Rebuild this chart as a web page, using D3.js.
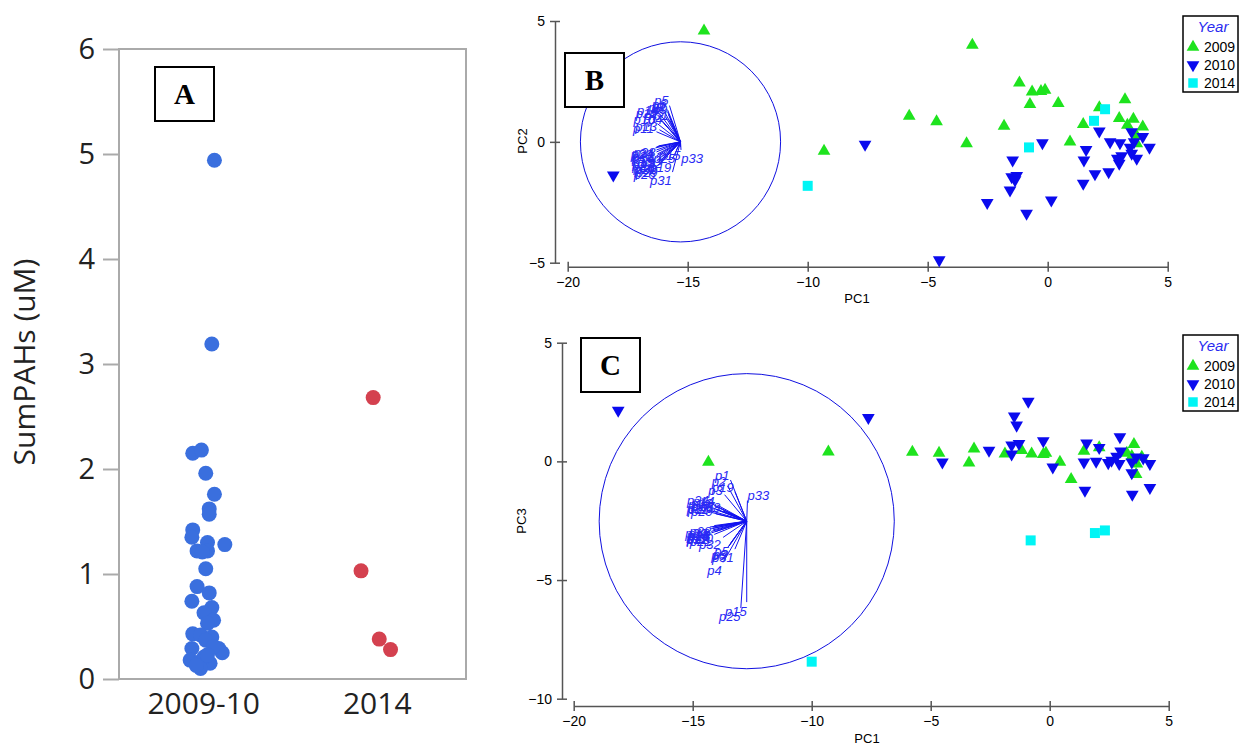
<!DOCTYPE html>
<html>
<head>
<meta charset="utf-8">
<script src="https://cdn.jsdelivr.net/npm/d3@7"></script>
<style>
    body { margin: 0; background: #fff; }
    svg { display: block; }
</style>
</head>
<body>
<svg id="chart" width="1239" height="746"></svg>
<script>
/* ---------- Panel A: SumPAHs by sampling period ---------- */
var groupNames = ['2009-10', '2014'];
var tickValuesA = [0, 1, 2, 3, 4, 5, 6];

// SumPAHs (uM) for 2009-10 and the horizontal jitter of each dot (in group units)
var sumPAHs0910 = [4.94, 3.19, 2.15, 2.18, 1.96, 1.76, 1.62, 1.57, 1.42, 1.35,
                   1.30, 1.28, 1.22, 1.22, 1.21, 1.05, 0.88, 0.82, 0.74, 0.68,
                   0.63, 0.56, 0.53, 0.43, 0.42, 0.40, 0.37, 0.29, 0.29, 0.25,
                   0.31, 0.18, 0.16, 0.15, 0.21, 0.10, 0.13, 0.23];
var jitter0910 = [0.05, 0.035, -0.075, -0.025, 0.0, 0.05, 0.02, 0.02, -0.075, -0.08,
                  0.01, 0.11, -0.05, 0.01, -0.02, 0.0, -0.05, 0.02, -0.08, 0.035,
                  -0.01, 0.045, 0.01, -0.075, -0.03, 0.035, 0.0, -0.08, 0.075, 0.095,
                  0.045, -0.09, -0.04, 0.025, -0.01, -0.03, -0.055, 0.01];

// SumPAHs (uM) for 2014
var sumPAHs2014 = [2.68, 1.03, 0.38, 0.28];
var jitter2014 = [-0.035, -0.105, 0.0, 0.065];

/* ---------- Panels B and C: PCA scores ---------- */
var yearNames = ['2009', '2010', '2014'];
var yearColors = ['#1ee31e', '#0a0aee', '#00f5f5'];

// Panel B scores (PC1, PC2)
var pc1B2009 = [-14.32, -9.32, -3.14, -1.18, -0.65, -0.28, -0.11, -0.74, 0.44, -5.77,
                -4.63, -1.82, -3.38, 0.93, 1.48, 2.15, 3.22, 2.98, 3.57, 3.32, 3.96, 3.71, 3.71];
var pc2B2009 = [4.59, -0.38, 4.0, 2.44, 2.07, 2.09, 2.14, 1.55, 1.59, 1.07,
                0.84, 0.65, -0.07, 0.0, 0.72, 1.42, 1.75, 0.97, 0.94, 0.69, 0.62, 0.24, -0.07];
var pc1B2010 = [-18.1, -7.61, -4.52, -1.46, -1.5, -1.29, -1.36, -1.57, -2.52, -0.88,
                0.15, -0.22, 1.6, 1.51, 1.48, 1.97, 2.54, 2.15, 2.6, 3.01,
                2.9, 2.98, 3.08, 3.5, 3.6, 3.43, 3.5, 3.71, 3.96, 4.24];
var pc2B2010 = [-1.38, -0.11, -4.89, -0.76, -1.45, -1.40, -1.58, -2.0, -2.52, -2.96,
                -2.41, -0.04, -0.32, -0.76, -1.72, -1.33, -1.24, 0.44, 0.0, -0.04,
                -0.69, -0.89, -0.58, 0.41, 0.0, -0.23, -0.48, -0.69, 0.21, -0.23];
var pc1B2014 = [-10.0, 2.39, 1.93, -0.78];
var pc2B2014 = [-1.82, 1.35, 0.87, -0.23];

// Panel C scores (PC1, PC3)
var pc1C2009 = [-14.34, -9.3, -5.77, -4.65, -3.18, -3.39, -1.88, -1.18, -0.76, -0.27,
                -0.16, 0.43, 0.9, 1.44, 2.08, 3.24, 3.54, 3.45, 3.66, 3.63, 3.87];
var pc3C2009 = [-0.03, 0.4, 0.39, 0.35, 0.53, -0.06, 0.32, 0.46, 0.32, 0.3,
                0.35, -0.03, -0.76, 0.43, 0.58, 0.35, 0.72, 0.21, -0.1, -0.55, 0.18];
var pc1C2010 = [-18.13, -7.62, -4.51, -2.55, -0.9, -1.49, -1.39, -1.6, -1.29, -1.6,
                -0.27, 0.13, 1.55, 1.44, 1.95, 2.08, 1.48, 2.46, 2.6, 2.92,
                2.95, 2.98, 2.81, 3.45, 3.45, 3.47, 3.63, 3.93, 4.21, 4.21];
var pc3C2010 = [2.15, 1.84, -0.03, 0.46, 2.53, 1.9, 1.52, 0.68, 0.75, 0.3,
                0.86, -0.24, 0.77, -0.03, 0.0, 0.58, -1.22, -0.06, 0.04, -0.1,
                1.03, 0.43, 0.21, -0.03, -0.49, -1.39, 0.18, 0.14, -0.1, -1.11];
var pc1C2014 = [-10.0, -0.8, 1.9, 2.32];
var pc3C2014 = [-8.44, -3.33, -3.02, -2.91];

// Variable loadings (PAH compounds p1..p33) on PC1, PC2, PC3
var pahNames = ['p1', 'p2', 'p3', 'p4', 'p5', 'p6', 'p7', 'p8', 'p9', 'p10', 'p11',
                'p12', 'p13', 'p14', 'p15', 'p16', 'p17', 'p18', 'p19', 'p20', 'p21', 'p22',
                'p23', 'p24', 'p25', 'p26', 'p27', 'p28', 'p29', 'p30', 'p31', 'p32', 'p33'];
var loadPC1 = [-0.11, -0.13, -0.15, -0.16, -0.11, -0.13, -0.20, -0.16, -0.12, -0.23, -0.24,
               -0.21, -0.21, -0.20, 0.0, -0.24, -0.24, -0.23, -0.08, -0.25, -0.22, -0.24,
               -0.23, -0.24, -0.04, -0.23, -0.24, -0.22, -0.21, -0.21, -0.08, -0.16, 0.005];
var loadPC2 = [0.22, 0.30, 0.25, 0.18, 0.36, 0.32, 0.22, 0.30, 0.27, 0.18, 0.10,
               0.24, 0.12, 0.27, -0.05, -0.10, -0.14, -0.18, -0.17, -0.06, -0.20, -0.08,
               -0.12, -0.05, -0.08, -0.24, -0.16, -0.04, -0.22, -0.20, -0.30, -0.14, -0.08];
var loadPC3 = [0.28, 0.24, 0.18, -0.28, -0.15, -0.18, 0.08, 0.07, -0.17, 0.09, 0.06,
               0.10, 0.08, 0.11, -0.55, -0.05, -0.07, -0.04, 0.20, -0.04, -0.09, -0.08,
               -0.06, 0.12, -0.59, -0.05, 0.07, -0.03, 0.05, -0.07, -0.19, -0.11, 0.14];

var pcTicks = [-20, -15, -10, -5, 0, 5];

var svg = d3.select('#chart');

/* Draws the dot plot of panel A */
function drawPanelA() {
    var left = 119, right = 466, top = 49, bottom = 679;

    // Scales: category index (with jitter) and SumPAHs value
    var xScale = d3.scaleLinear().domain([-0.5, 1.5]).range([left, right]);
    var yScale = d3.scaleLinear().domain([0, 6]).range([bottom, top]);

    var g = svg.append('g').attr('class', 'panelA');

    // Plot frame
    g.append('rect')
        .attr('x', left).attr('y', top)
        .attr('width', right - left).attr('height', bottom - top)
        .attr('fill', 'none')
        .attr('stroke', '#aaaaaa')
        .attr('stroke-width', 2);

    // Y axis ticks and labels
    var yAxis = d3.axisLeft(yScale)
        .tickValues(tickValuesA)
        .tickSize(16)
        .tickPadding(8)
        .tickFormat(d3.format('d'));
    var yG = g.append('g')
        .attr('transform', 'translate(' + left + ',0)')
        .call(yAxis);
    yG.select('.domain').remove();
    yG.selectAll('line').attr('stroke', '#aaaaaa').attr('stroke-width', 2);
    yG.selectAll('text')
        .attr('font-family', '"Open Sans", sans-serif')
        .attr('font-size', '29px')
        .attr('fill', '#222');

    // Y axis title
    g.append('text')
        .attr('transform', 'translate(35,' + 362 + ') rotate(-90)')
        .attr('text-anchor', 'middle')
        .attr('font-family', '"Open Sans", sans-serif')
        .attr('font-size', '30px')
        .attr('fill', '#222')
        .text('SumPAHs (uM)');

    // Category labels
    g.selectAll('text.groupLabel')
        .data(groupNames)
        .enter()
        .append('text')
        .classed('groupLabel', true)
        .attr('x', function(d, i) { return xScale(i) - 2; })
        .attr('y', 714)
        .attr('text-anchor', 'middle')
        .attr('font-family', '"Open Sans", sans-serif')
        .attr('font-size', '30px')
        .attr('fill', '#222')
        .text(function(d) { return d; });

    // Dots for each period
    var groups = [
        { values: sumPAHs0910, jitter: jitter0910, color: '#3a6fde' },
        { values: sumPAHs2014, jitter: jitter2014, color: '#d4414f' }
    ];
    groups.forEach(function(grp, gi) {
        g.selectAll('circle.g' + gi)
            .data(grp.values)
            .enter()
            .append('circle')
            .attr('class', 'g' + gi)
            .attr('cx', function(d, i) { return xScale(gi + grp.jitter[i]); })
            .attr('cy', function(d) { return yScale(d); })
            .attr('r', 7.5)
            .attr('fill', grp.color);
    });

    // Panel letter
    drawLetter(g, 155, 67, 'A');
}

/* Draws a boxed panel letter */
function drawLetter(g, x, y, letter) {
    g.append('rect')
        .attr('x', x).attr('y', y)
        .attr('width', 59).attr('height', 54)
        .attr('fill', '#fff')
        .attr('stroke', '#000')
        .attr('stroke-width', 2);
    g.append('text')
        .attr('x', x + 29.5).attr('y', y + 37)
        .attr('text-anchor', 'middle')
        .attr('font-family', '"Liberation Serif", "Times New Roman", serif')
        .attr('font-weight', 'bold')
        .attr('font-size', '29px')
        .text(letter);
}

/* Draws one PCA biplot panel (B or C) */
function drawBiplot(p) {
    var g = svg.append('g').attr('class', 'panel' + p.letter);

    var xScale = d3.scaleLinear().domain([-20, 5]).range(p.xRange);
    var yScale = d3.scaleLinear().domain(p.yDomain).range(p.yRange);

    // X axis with ticks crossing the line
    var xAxis = d3.axisBottom(xScale)
        .tickValues(pcTicks)
        .tickSizeInner(5)
        .tickSizeOuter(0)
        .tickPadding(5);
    var xG = g.append('g')
        .attr('transform', 'translate(0,' + p.xAxisY + ')')
        .call(xAxis);
    xG.selectAll('.tick line').attr('y1', -5);

    // Y axis with ticks crossing the line
    var yAxis = d3.axisLeft(yScale)
        .tickValues(p.yTicks)
        .tickSizeInner(5)
        .tickSizeOuter(0)
        .tickPadding(5);
    var yG = g.append('g')
        .attr('transform', 'translate(' + p.yAxisX + ',0)')
        .call(yAxis);
    yG.selectAll('.tick line').attr('x1', 5);

    [xG, yG].forEach(function(ax) {
        ax.selectAll('.domain, line').attr('stroke', '#555').attr('stroke-width', 1.5);
        ax.selectAll('text')
            .attr('font-family', '"Liberation Sans", Arial, sans-serif')
            .attr('font-size', '14px')
            .attr('fill', '#000');
    });

    // Axis titles
    g.append('text')
        .attr('x', p.xTitle[0]).attr('y', p.xTitle[1])
        .attr('text-anchor', 'middle')
        .attr('font-family', '"Liberation Sans", Arial, sans-serif')
        .attr('font-size', '13px')
        .text('PC1');
    g.append('text')
        .attr('transform', 'translate(' + p.yTitle[0] + ',' + p.yTitle[1] + ') rotate(-90)')
        .attr('text-anchor', 'middle')
        .attr('font-family', '"Liberation Sans", Arial, sans-serif')
        .attr('font-size', '13px')
        .text(p.yLabel);

    // Correlation circle
    var cx = xScale(p.circle.x), cy = yScale(p.circle.y);
    var rPx = xScale(p.circle.x + p.circle.r) - cx;
    g.append('circle')
        .attr('cx', cx).attr('cy', cy).attr('r', rPx)
        .attr('fill', 'none')
        .attr('stroke', '#1010e0')
        .attr('stroke-width', 1);

    // Loading vectors and labels
    var vectors = pahNames.map(function(name, i) {
        return { name: name, dx: loadPC1[i], dy: p.loadY[i] };
    });
    var vecG = g.append('g');
    vecG.selectAll('line')
        .data(vectors)
        .enter()
        .append('line')
        .attr('x1', cx).attr('y1', cy)
        .attr('x2', function(d) { return xScale(p.circle.x + d.dx * p.circle.r); })
        .attr('y2', function(d) { return yScale(p.circle.y + d.dy * p.circle.r); })
        .attr('stroke', '#1212f0')
        .attr('stroke-width', 1);
    vecG.selectAll('text')
        .data(vectors)
        .enter()
        .append('text')
        .attr('x', function(d) {
            var len = Math.sqrt(d.dx * d.dx + d.dy * d.dy) || 1;
            return xScale(p.circle.x + d.dx * p.circle.r) + 3 * d.dx / len;
        })
        .attr('y', function(d) {
            var len = Math.sqrt(d.dx * d.dx + d.dy * d.dy) || 1;
            return yScale(p.circle.y + d.dy * p.circle.r) - 3 * d.dy / len;
        })
        .attr('dy', function(d) { return d.dy < 0 ? '0.8em' : '0.2em'; })
        .attr('text-anchor', function(d) { return d.dx > 0 ? 'start' : 'end'; })
        .attr('font-family', '"Liberation Sans", Arial, sans-serif')
        .attr('font-style', 'italic')
        .attr('font-size', '13px')
        .attr('fill', '#2a2af5')
        .text(function(d) { return d.name; });

    // Score points for each year
    var triUp = d3.symbol().type(d3.symbolTriangle).size(70);
    var square = d3.symbol().type(d3.symbolSquare).size(100);
    p.scores.forEach(function(s, yi) {
        g.selectAll('path.y' + yi)
            .data(s.x)
            .enter()
            .append('path')
            .attr('class', 'y' + yi)
            .attr('d', yi == 2 ? square() : triUp())
            .attr('transform', function(d, i) {
                var t = 'translate(' + xScale(d) + ',' + yScale(s.y[i]) + ')';
                return yi == 1 ? t + ' rotate(180)' : t;
            })
            .attr('fill', yearColors[yi]);
    });

    // Legend
    var lg = g.append('g').attr('transform', 'translate(1183,' + p.legendY + ')');
    lg.append('rect')
        .attr('width', 55).attr('height', 76)
        .attr('fill', '#fff')
        .attr('stroke', '#000')
        .attr('stroke-width', 1.5);
    lg.append('text')
        .attr('x', 30).attr('y', 16)
        .attr('text-anchor', 'middle')
        .attr('font-family', '"Liberation Sans", Arial, sans-serif')
        .attr('font-style', 'italic')
        .attr('font-size', '15px')
        .attr('fill', '#2a2af0')
        .text('Year');
    yearNames.forEach(function(name, yi) {
        var yy = 31 + yi * 18;
        lg.append('path')
            .attr('d', yi == 2 ? d3.symbol().type(d3.symbolSquare).size(90)() : triUp())
            .attr('transform', 'translate(10,' + yy + ')' + (yi == 1 ? ' rotate(180)' : ''))
            .attr('fill', yearColors[yi]);
        lg.append('text')
            .attr('x', 21).attr('y', yy + 5)
            .attr('font-family', '"Liberation Sans", Arial, sans-serif')
            .attr('font-size', '14px')
            .text(name);
    });

    // Panel letter
    drawLetter(g, p.letterPos[0], p.letterPos[1], p.letter);
}

drawPanelA();

drawBiplot({
    letter: 'B',
    xRange: [567.7, 1167.7],
    yDomain: [-5, 5], yRange: [262.7, 21], yTicks: [-5, 0, 5],
    xAxisY: 266.7, yAxisX: 555,
    xTitle: [857, 303], yTitle: [527, 141], yLabel: 'PC2',
    circle: { x: -15.3, y: 0, r: 4.17 },
    loadY: loadPC2,
    scores: [
        { x: pc1B2009, y: pc2B2009 },
        { x: pc1B2010, y: pc2B2010 },
        { x: pc1B2014, y: pc2B2014 }
    ],
    legendY: 16,
    letterPos: [565, 53]
});

drawBiplot({
    letter: 'C',
    xRange: [573.7, 1168.7],
    yDomain: [-10, 5], yRange: [698.7, 342.7], yTicks: [-10, -5, 0, 5],
    xAxisY: 706, yAxisX: 562,
    xTitle: [867, 743], yTitle: [526, 521], yLabel: 'PC3',
    circle: { x: -12.73, y: -2.52, r: 6.2 },
    loadY: loadPC3,
    scores: [
        { x: pc1C2009, y: pc3C2009 },
        { x: pc1C2010, y: pc3C2010 },
        { x: pc1C2014, y: pc3C2014 }
    ],
    legendY: 335,
    letterPos: [581, 338]
});
</script>
</body>
</html>
